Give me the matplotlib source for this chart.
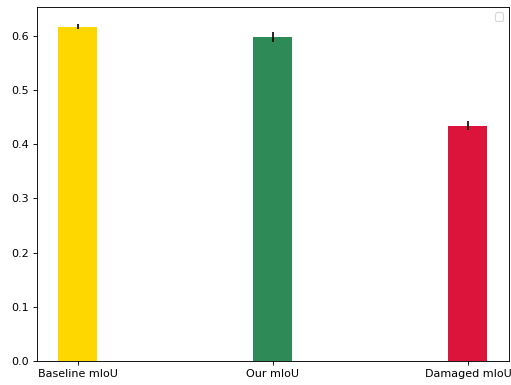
import matplotlib
matplotlib.use('Agg')
import matplotlib.pyplot as plt

labels = ['Baseline mIoU', 'Our mIoU', 'Damaged mIoU']
means = [0.6166, 0.5976, 0.4338]
errs = [0.005, 0.009, 0.008]
colors = ['gold', 'seagreen', 'crimson']

fig, ax = plt.subplots(figsize=(511 / 80, 385 / 80), dpi=80)
fig.subplots_adjust(left=0.072, right=0.996, top=0.982, bottom=0.0623)

ax.bar(labels, means, yerr=errs, width=0.2, color=colors)
ax.legend()

fig.savefig('out.png', dpi=80)
